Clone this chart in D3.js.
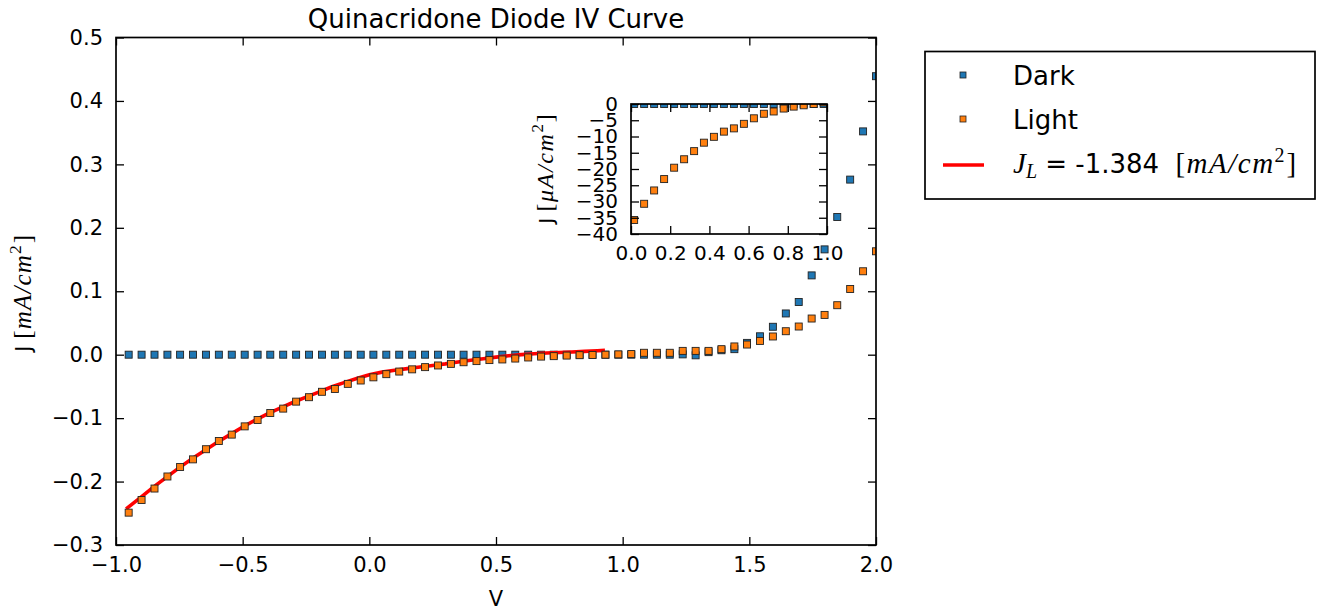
<!DOCTYPE html>
<html>
<head>
<meta charset="utf-8">
<script src="https://cdn.jsdelivr.net/npm/d3@7"></script>
<style>
  html, body { margin: 0; padding: 0; background: #fff; }
  svg { display: block; }
  text { font-family: "DejaVu Sans", sans-serif; fill: #000; }
</style>
</head>
<body>
<svg id="chart" width="1333" height="612"></svg>
<script>
// ---------------- DATA ----------------
const voltage = [-0.950,-0.899,-0.848,-0.797,-0.747,-0.696,-0.645,-0.594,-0.543,-0.492,
  -0.441,-0.391,-0.340,-0.289,-0.238,-0.187,-0.136,-0.085,-0.034,0.016,
  0.067,0.118,0.169,0.220,0.271,0.322,0.372,0.423,0.474,0.525,
  0.576,0.627,0.678,0.728,0.779,0.830,0.881,0.932,0.983,1.034,
  1.084,1.135,1.186,1.237,1.288,1.339,1.390,1.441,1.491,1.542,
  1.593,1.644,1.695,1.746,1.797,1.847,1.898,1.949,2.000];

const darkJ = [0,0,0,0,0,0,0,0,0,0,
  0,0,0,0,0,0,0,0,0,0,
  0,0,0,0,0,0,0,0,0,0,
  0,0,0,0,0,0,0,0,0,0,
  0,0,0,0.0005,-0.001,0.004,0.007,0.0087,0.0186,0.029,
  0.044,0.065,0.083,0.125,0.166,0.217,0.276,0.352,0.439];

const lightJ = [-0.249,-0.229,-0.211,-0.192,-0.177,-0.165,-0.149,-0.136,-0.126,-0.113,
  -0.103,-0.092,-0.085,-0.074,-0.067,-0.0585,-0.054,-0.046,-0.0407,-0.0357,
  -0.0307,-0.0266,-0.0231,-0.0196,-0.0170,-0.0145,-0.0119,-0.0101,-0.0085,-0.0075,
  -0.0061,-0.0044,-0.0030,-0.0023,-0.0014,-0.0008,-0.0004,0.0000,0.0005,0.001,
  0.003,0.003,0.003,0.006,0.006,0.006,0.0087,0.013,0.016,0.0217,
  0.0287,0.037,0.0444,0.057,0.0627,0.078,0.1036,0.1315,0.163];

const fitV = [-0.96,-0.90,-0.85,-0.80,-0.75,-0.70,-0.65,-0.60,-0.55,-0.50,
  -0.45,-0.40,-0.35,-0.30,-0.25,-0.20,-0.15,-0.10,-0.05,0.00,
  0.05,0.10,0.15,0.20,0.25,0.30,0.35,0.40,0.45,0.50,
  0.55,0.60,0.65,0.70,0.75,0.80,0.85,0.90,0.93];
const fitJ = [-0.243,-0.224,-0.208,-0.193,-0.178,-0.164,-0.151,-0.138,-0.126,-0.114,
  -0.103,-0.093,-0.084,-0.075,-0.067,-0.059,-0.051,-0.044,-0.0375,-0.0315,
  -0.0275,-0.0245,-0.022,-0.0195,-0.017,-0.0145,-0.0115,-0.0088,-0.0063,-0.0038,
  -0.0017,0.0001,0.0015,0.0027,0.0035,0.0043,0.0052,0.0062,0.0068];

const xTicks = [-1.0,-0.5,0.0,0.5,1.0,1.5,2.0];
const yTicks = [-0.3,-0.2,-0.1,0.0,0.1,0.2,0.3,0.4,0.5];
const insetXTicks = [0.0,0.2,0.4,0.6,0.8,1.0];
const insetYTicks = [0,-5,-10,-15,-20,-25,-30,-35,-40];

const titleText = "Quinacridone Diode IV Curve";
const legendLabels = ["Dark", "Light"];
const fitLabelValue = "-1.384";

// ---------------- LAYOUT ----------------
const svg = d3.select("#chart");
const M = {left: 116, right: 876, top: 37.5, bottom: 545};
const I = {left: 631, right: 827, top: 104, bottom: 234};
const blue = "#1f77b4", orange = "#ff7f0e";
const mSize = 7;
const minus = s => s.replace("-", "\u2212");
const SERIF = "Liberation Serif";

const x = d3.scaleLinear().domain([-1, 2]).range([M.left, M.right]);
const y = d3.scaleLinear().domain([-0.3, 0.5]).range([M.bottom, M.top]);
const xi = d3.scaleLinear().domain([0, 1]).range([I.left, I.right]);
const yi = d3.scaleLinear().domain([-40, 0]).range([I.bottom, I.top]);

const defs = svg.append("defs");
defs.append("clipPath").attr("id", "clipMain").append("rect")
  .attr("x", M.left).attr("y", M.top).attr("width", M.right - M.left).attr("height", M.bottom - M.top);
defs.append("clipPath").attr("id", "clipInset").append("rect")
  .attr("x", I.left).attr("y", I.top).attr("width", I.right - I.left).attr("height", I.bottom - I.top);

function drawSquares(g, xs, vals, sx, sy, color, size) {
  g.selectAll(null).data(vals.map((v, i) => [xs[i], v])).enter().append("rect")
    .attr("x", d => sx(d[0]) - size / 2)
    .attr("y", d => sy(d[1]) - size / 2)
    .attr("width", size).attr("height", size)
    .attr("fill", color).attr("stroke", "#222").attr("stroke-width", 0.9);
}

function styleAxis(g, fontSize) {
  g.select(".domain").remove();
  g.selectAll(".tick line").attr("stroke", "#000").attr("stroke-width", 1.3);
  g.selectAll(".tick text").attr("font-size", fontSize).attr("fill", "#000")
    .attr("font-family", "DejaVu Sans");
}

// ---------------- MAIN PLOT ----------------
const main = svg.append("g");
main.append("rect").attr("x", M.left).attr("y", M.top)
  .attr("width", M.right - M.left).attr("height", M.bottom - M.top).attr("fill", "#fff");

const plotG = main.append("g").attr("clip-path", "url(#clipMain)");
drawSquares(plotG.append("g"), voltage, darkJ, x, y, blue, mSize);
plotG.append("path")
  .datum(fitV.map((v, i) => [v, fitJ[i]]))
  .attr("d", d3.line().x(d => x(d[0])).y(d => y(d[1])))
  .attr("fill", "none").attr("stroke", "#ff0000").attr("stroke-width", 3.6);
drawSquares(plotG.append("g"), voltage, lightJ, x, y, orange, mSize);

const fmt1 = d => minus(d3.format(".1f")(d));
main.append("g").attr("transform", `translate(0,${M.bottom})`)
  .call(d3.axisBottom(x).tickValues(xTicks).tickFormat(fmt1).tickSizeInner(-8).tickSizeOuter(0).tickPadding(12))
  .call(g => styleAxis(g, 21));
main.append("g").attr("transform", `translate(0,${M.top})`)
  .call(d3.axisTop(x).tickValues(xTicks).tickFormat("").tickSizeInner(-8).tickSizeOuter(0))
  .call(g => styleAxis(g, 21));
main.append("g").attr("transform", `translate(${M.left},0)`)
  .call(d3.axisLeft(y).tickValues(yTicks).tickFormat(fmt1).tickSizeInner(-8).tickSizeOuter(0).tickPadding(13))
  .call(g => styleAxis(g, 21));
main.append("g").attr("transform", `translate(${M.right},0)`)
  .call(d3.axisRight(y).tickValues(yTicks).tickFormat("").tickSizeInner(-8).tickSizeOuter(0))
  .call(g => styleAxis(g, 21));
main.append("rect").attr("x", M.left).attr("y", M.top)
  .attr("width", M.right - M.left).attr("height", M.bottom - M.top)
  .attr("fill", "none").attr("stroke", "#000").attr("stroke-width", 1.7);

svg.append("text").attr("x", (M.left + M.right) / 2).attr("y", 28)
  .attr("text-anchor", "middle").attr("font-size", 26).text(titleText);
svg.append("text").attr("x", (M.left + M.right) / 2).attr("y", 606)
  .attr("text-anchor", "middle").attr("font-size", 21).text("V");

// "J [unit A/cm^2]" with math-style serif units
function mathLabel(sel, fs, mfs, ls, unitPrefix) {
  sel.append("tspan").attr("font-family", "DejaVu Sans").attr("font-size", fs).text("J ");
  sel.append("tspan").attr("font-family", SERIF).attr("font-size", mfs).attr("letter-spacing", ls).text("[");
  sel.append("tspan").attr("font-family", SERIF).attr("font-size", mfs).attr("letter-spacing", ls)
    .attr("font-style", "italic").text(unitPrefix + "A/cm");
  sel.append("tspan").attr("font-family", SERIF).attr("font-size", mfs * 0.7)
    .attr("dy", -mfs * 0.4).text("2");
  sel.append("tspan").attr("font-family", SERIF).attr("font-size", mfs).attr("dx", 2)
    .attr("dy", mfs * 0.4).text("]");
}
const yl = svg.append("text").attr("transform", `translate(31,${(M.top + M.bottom) / 2 + 2}) rotate(-90)`)
  .attr("text-anchor", "middle");
mathLabel(yl, 21, 25, 1.2, "m");

// ---------------- INSET ----------------
const inset = svg.append("g");
inset.append("rect").attr("x", I.left).attr("y", I.top)
  .attr("width", I.right - I.left).attr("height", I.bottom - I.top).attr("fill", "#fff");
const insetIdx = voltage.map((v, i) => i).filter(i => voltage[i] >= 0 && voltage[i] <= 1);
const insetG = inset.append("g").attr("clip-path", "url(#clipInset)");
drawSquares(insetG.append("g"), insetIdx.map(i => voltage[i]), insetIdx.map(i => darkJ[i] * 1000), xi, yi, blue, mSize);
drawSquares(insetG.append("g"), insetIdx.map(i => voltage[i]), insetIdx.map(i => lightJ[i] * 1000), xi, yi, orange, mSize);

inset.append("g").attr("transform", `translate(0,${I.bottom})`)
  .call(d3.axisBottom(xi).tickValues(insetXTicks).tickFormat(fmt1).tickSizeInner(-8).tickSizeOuter(0).tickPadding(12))
  .call(g => styleAxis(g, 20));
inset.append("g").attr("transform", `translate(0,${I.top})`)
  .call(d3.axisTop(xi).tickValues(insetXTicks).tickFormat("").tickSizeInner(-8).tickSizeOuter(0))
  .call(g => styleAxis(g, 20));
inset.append("g").attr("transform", `translate(${I.left},0)`)
  .call(d3.axisLeft(yi).tickValues(insetYTicks).tickFormat(d => minus(String(d))).tickSizeInner(-8).tickSizeOuter(0).tickPadding(13))
  .call(g => styleAxis(g, 20));
inset.append("g").attr("transform", `translate(${I.right},0)`)
  .call(d3.axisRight(yi).tickValues(insetYTicks).tickFormat("").tickSizeInner(-8).tickSizeOuter(0))
  .call(g => styleAxis(g, 20));
inset.append("rect").attr("x", I.left).attr("y", I.top)
  .attr("width", I.right - I.left).attr("height", I.bottom - I.top)
  .attr("fill", "none").attr("stroke", "#000").attr("stroke-width", 1.7);

const iyl = svg.append("text").attr("transform", `translate(553,${(I.top + I.bottom) / 2}) rotate(-90)`)
  .attr("text-anchor", "middle");
mathLabel(iyl, 20, 24, 1.6, "\u03bc");

// ---------------- LEGEND ----------------
const L = {x: 925, y: 51.5, w: 390, h: 147.5};
const leg = svg.append("g");
leg.append("rect").attr("x", L.x).attr("y", L.y).attr("width", L.w).attr("height", L.h)
  .attr("fill", "#fff").attr("stroke", "#000").attr("stroke-width", 1.7);
const rowY = [75, 119, 164];
const legColors = [blue, orange];
legendLabels.forEach((lab, i) => {
  leg.append("rect").attr("x", 963 - 3).attr("y", rowY[i] - 3).attr("width", 6).attr("height", 6)
    .attr("fill", legColors[i]).attr("stroke", "#222").attr("stroke-width", 0.8);
  leg.append("text").attr("x", 1013).attr("y", rowY[i] + 10).attr("font-size", 26).text(lab);
});
leg.append("line").attr("x1", 943).attr("x2", 984).attr("y1", rowY[2] + 1).attr("y2", rowY[2] + 1)
  .attr("stroke", "#ff0000").attr("stroke-width", 3.6);
const ft = leg.append("text").attr("x", 1013).attr("y", rowY[2] + 9).attr("font-size", 26);
ft.append("tspan").attr("font-family", SERIF).attr("font-style", "italic").attr("font-size", 29).text("J");
ft.append("tspan").attr("font-family", SERIF).attr("font-style", "italic")
  .attr("font-size", 20).attr("dy", 5).text("L");
ft.append("tspan").attr("font-family", "DejaVu Sans").attr("dy", -5).text(" = " + fitLabelValue + " ");
ft.append("tspan").attr("font-family", SERIF).attr("font-size", 29).attr("dx", 8).attr("letter-spacing", 1.5).text("[");
ft.append("tspan").attr("font-family", SERIF).attr("font-style", "italic").attr("font-size", 29)
  .attr("letter-spacing", 1.5).text("mA/cm");
ft.append("tspan").attr("font-family", SERIF).attr("font-size", 20).attr("dy", -11).text("2");
ft.append("tspan").attr("font-family", SERIF).attr("font-size", 29).attr("dx", 2).attr("dy", 11).text("]");
</script>
</body>
</html>
